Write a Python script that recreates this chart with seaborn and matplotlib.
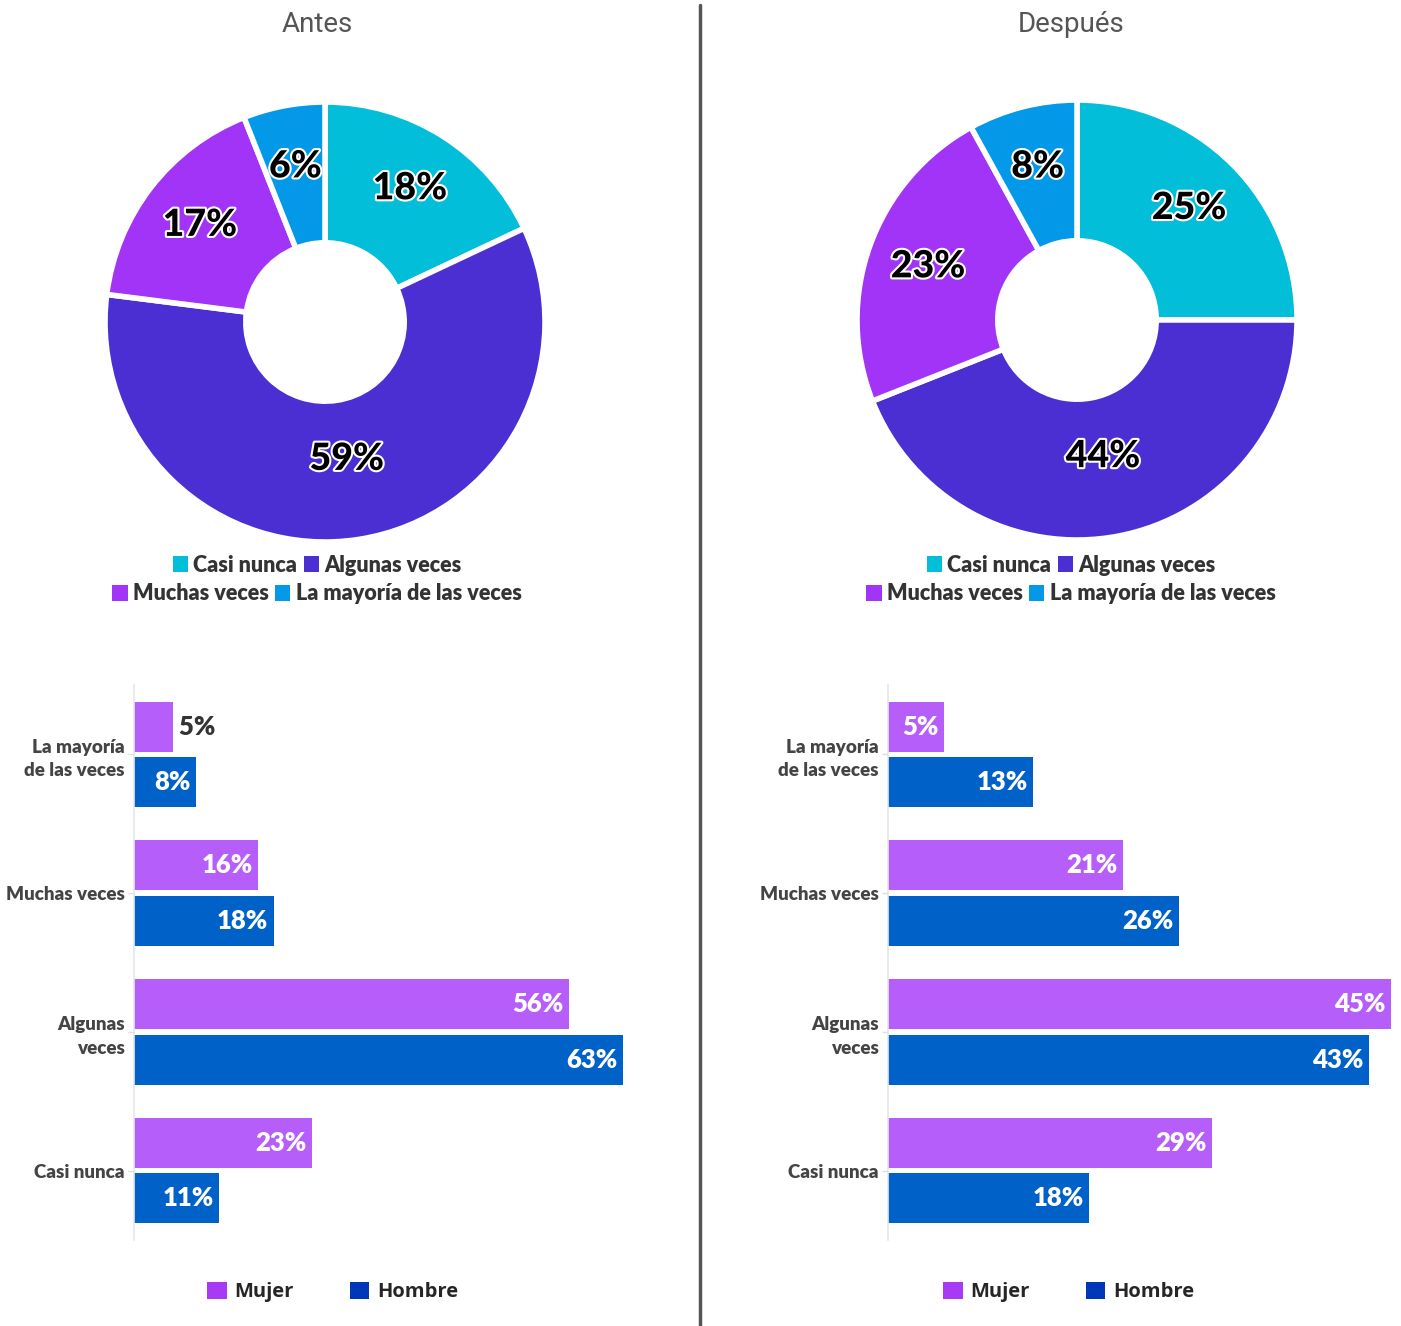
import numpy as np
import pandas as pd
import seaborn as sns
import matplotlib.pyplot as plt
from matplotlib import patheffects as pe
from matplotlib.lines import Line2D
from matplotlib.patches import Patch

# Datos de las donas
categorias = ["Casi nunca", "Algunas veces", "Muchas veces", "La mayoría de las veces"]
dona_antes = [18, 59, 17, 6]
dona_despues = [25, 44, 23, 8]

# Datos de las barras (de arriba a abajo)
orden_barras = ["La mayoría de las veces", "Muchas veces", "Algunas veces", "Casi nunca"]
etiquetas_barras = ["La mayoría\nde las veces", "Muchas veces", "Algunas\nveces", "Casi nunca"]
sexos = ["Mujer", "Hombre"]
mujer_antes = [5, 16, 56, 23]
hombre_antes = [8, 18, 63, 11]
mujer_despues = [5, 21, 45, 29]
hombre_despues = [13, 26, 43, 18]

colores_dona = ["#02BED8", "#4C2FD2", "#A234F7", "#0399E8"]
colores_barras = ["#B65EFA", "#0062C8"]
colores_leyenda_barras = ["#A83AF5", "#0036B8"]

sns.set_theme(style="white")
plt.rcParams['font.family'] = ['Lato', 'DejaVu Sans']

fig = plt.figure(figsize=(14.01, 13.26), dpi=100)
W, H = 1401, 1326


def dona(cx, cy, valores, titulo, tx):
    r = 220 * 1.02
    ax = fig.add_axes([(cx - r) / W, 1 - (cy + r) / H, 2 * r / W, 2 * r / H])
    wedges, textos, pcts = ax.pie(
        valores, colors=colores_dona, startangle=90, counterclock=False,
        autopct=lambda p: f"{p:.0f}%", pctdistance=0.72,
        wedgeprops=dict(width=0.64, edgecolor="white", linewidth=4))
    ax.set_xlim(-1.02, 1.02)
    ax.set_ylim(-1.02, 1.02)
    grande = int(np.argmax(valores))
    for i, (w, t) in enumerate(zip(wedges, pcts)):
        t.set_fontsize(27)
        t.set_fontweight("black")
        t.set_color("black")
        t.set_path_effects([pe.withStroke(linewidth=3, foreground="white")])
        if i == grande:
            ang = np.deg2rad((w.theta1 + w.theta2) / 2)
            t.set_position((0.63 * np.cos(ang), 0.63 * np.sin(ang)))
    fig.text(tx / W, 1 - 24 / H, titulo, ha="center", va="center",
             fontsize=20, color="#555555", family="Roboto")
    # leyenda en dos filas centradas
    manijas = [Patch(facecolor=c, edgecolor="none") for c in colores_dona]
    for fila, y in ((0, 565), (1, 594)):
        idx = [2 * fila, 2 * fila + 1]
        leg = fig.legend([manijas[i] for i in idx], [categorias[i] for i in idx],
                         loc="center", bbox_to_anchor=(tx / W, 1 - y / H), ncol=2,
                         frameon=False, handlelength=0.7, handleheight=0.7,
                         handletextpad=0.25, columnspacing=0.3,
                         prop=dict(size=15.5, weight="heavy"))
        for txt in leg.get_texts():
            txt.set_color("#333333")


def barras(x0, valores_m, valores_h, lx):
    df = pd.DataFrame({
        "categoria": orden_barras * 2,
        "sexo": ["Mujer"] * 4 + ["Hombre"] * 4,
        "valor": valores_m + valores_h,
    })
    xmax = max(valores_m + valores_h)
    ancho = xmax * 7.76 if x0 < 700 else xmax * 11.18
    ax = fig.add_axes([x0 / W, 1 - 1240 / H, ancho / W, 555 / H])
    sns.barplot(data=df, y="categoria", x="valor", hue="sexo", order=orden_barras,
                hue_order=sexos, palette=colores_barras, orient="h", width=0.8,
                gap=0.1, legend=False, ax=ax, linewidth=0, saturation=1)
    ax.set_xlim(0, xmax)
    ax.set_ylim(3.5, -0.5)
    ax.set_xlabel("")
    ax.set_ylabel("")
    ax.set_xticks([])
    ax.set_yticks(range(4))
    ax.set_yticklabels(etiquetas_barras, fontsize=13.5, fontweight="heavy",
                       color="#444444", linespacing=1.45)
    for lbl in ax.get_yticklabels():
        if "\n" in lbl.get_text():
            lbl.set_y(lbl.get_position()[1] - 0.03)
    ax.tick_params(axis="y", length=4, width=1, color="#e0e0e0", pad=2.5, left=True)
    for s in ("top", "right", "bottom"):
        ax.spines[s].set_visible(False)
    ax.spines["left"].set_color("#e6e6e6")
    ax.spines["left"].set_linewidth(1.2)
    for cont in ax.containers:
        for barra in cont:
            v = barra.get_width()
            y = barra.get_y() + barra.get_height() / 2
            px = v / xmax * ancho
            if px < 45:
                ax.text(v, y, f" {v:.0f}%", ha="left", va="center", fontsize=18.5,
                        fontweight="heavy", color="#333333")
            else:
                ax.annotate(f"{v:.0f}%", (v, y), xytext=(-4, 0), textcoords="offset points",
                            ha="right", va="center", fontsize=18.5, fontweight="heavy",
                            color="white")
    manijas = [Patch(facecolor=c, edgecolor="none") for c in colores_leyenda_barras]
    fig.legend(manijas, sexos, loc="center", bbox_to_anchor=(lx / W, 1 - 1292 / H),
               ncol=2, frameon=False, handlelength=0.95, handleheight=0.95,
               handletextpad=0.4, columnspacing=2.8,
               prop=dict(size=14.5, weight="bold", family="Open Sans"))


dona(325, 322, dona_antes, "Antes", 317)
dona(1077, 320, dona_despues, "Después", 1071)
barras(134, mujer_antes, hombre_antes, 333)
barras(888, mujer_despues, hombre_despues, 1069)

fig.add_artist(Line2D([700 / W, 700 / W], [0, 1 - 5 / H], color="#555555", linewidth=2.5))

fig.savefig("out.png", dpi=100, facecolor="white")
